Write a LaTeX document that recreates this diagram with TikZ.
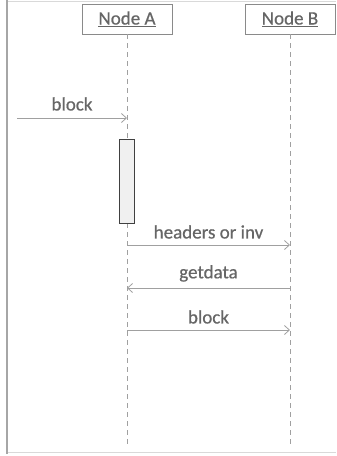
\documentclass[tikz,border=0pt]{standalone}
\usepackage{fontspec}
\newfontfamily\lblfont{Carlito}[FakeBold=0.6]
\usetikzlibrary{arrows.meta}
\definecolor{txt}{HTML}{666666}
\definecolor{ln}{HTML}{A0A0A0}
\definecolor{bx}{HTML}{8A8A8A}
\tikzset{
  obj/.style={draw=bx, line width=0.8pt, minimum width=90pt, minimum height=30pt, inner sep=0pt, text=txt, font=\fontsize{19}{21}\lblfont},
  life/.style={draw=ln, line width=0.8pt, dash pattern=on 5pt off 4pt},
  msg/.style={draw=ln, line width=0.8pt, -{Straight Barb[length=5pt,width=9pt]}},
  lbl/.style={text=txt, font=\fontsize{19}{21}\lblfont, inner sep=0pt},
  act/.style={draw=black!75, fill=black!6, line width=0.8pt}
}
\begin{document}
\begin{tikzpicture}[x=1pt,y=-1pt]
\useasboundingbox (0,0) rectangle (337,456);
\draw[draw=black!15, line width=1pt] (7,1) -- (336,1);
\draw[draw=black!15, line width=1pt] (7,452) -- (336,452);
\draw[draw=black!35, line width=2pt] (7,0) -- (7,454);
\node[obj] (A) at (127,19) {\underline{Node A}};
\node[obj] (B) at (290,19) {\underline{Node B}};
\coordinate (Aend) at (127,448);
\coordinate (Bend) at (290,448);
\draw[life] (A.south) -- (Aend);
\draw[life] (B.south) -- (Bend);
\node[act, minimum width=15pt, minimum height=84pt, inner sep=0pt] (act) at (127,181) {};
\coordinate (start) at (17,118);
\coordinate (a1) at (127,118);
\draw[msg] (start) -- node[lbl, above=7pt] (l1) {block} (a1);
\coordinate (a2) at (127,245); \coordinate (b2) at (290,245);
\draw[msg] (a2) -- node[lbl, above=6pt] (l2) {headers or inv} (b2);
\coordinate (a3) at (127,288); \coordinate (b3) at (290,288);
\draw[msg] (b3) -- node[lbl, above=6pt] (l3) {getdata} (a3);
\coordinate (a4) at (127,330); \coordinate (b4) at (290,330);
\draw[msg] (a4) -- node[lbl, above=6pt] (l4) {block} (b4);
\end{tikzpicture}
\end{document}
